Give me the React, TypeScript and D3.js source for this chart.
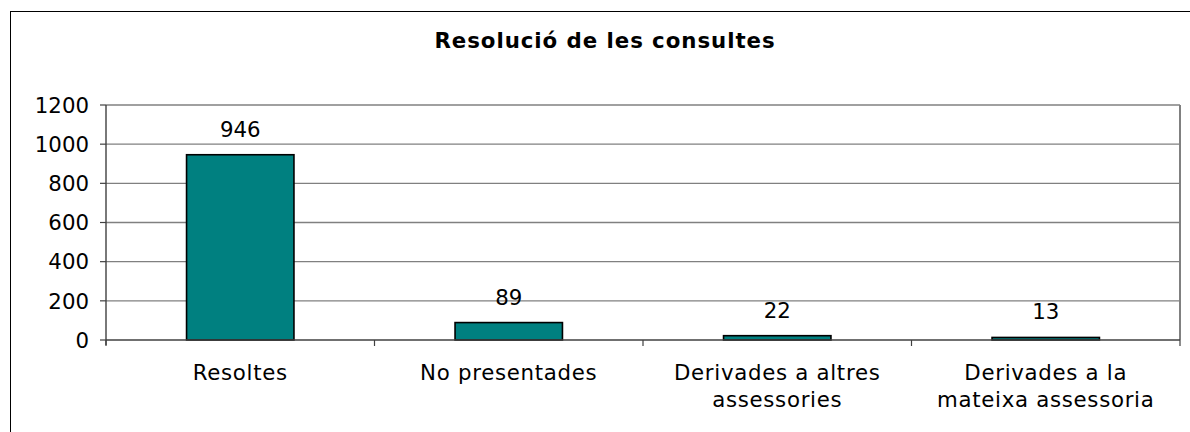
import React from "react";
import * as d3 from "d3";

const title = "Resolució de les consultes";
const categories = [
  "Resoltes",
  "No presentades",
  "Derivades a altres assessories",
  "Derivades a la mateixa assessoria",
];
const categoryLines = [
  ["Resoltes"],
  ["No presentades"],
  ["Derivades a altres", "assessories"],
  ["Derivades a la", "mateixa assessoria"],
];
const values = [946, 89, 22, 13];
const yTicks = [0, 200, 400, 600, 800, 1000, 1200];

const W = 1190;
const H = 432;
const plot = { left: 106, right: 1180, top: 105, bottom: 340 };
const FONT = "'DejaVu Sans', Verdana, sans-serif";

export default function App() {
  const x = d3
    .scaleBand<string>()
    .domain(categories)
    .range([plot.left, plot.right])
    .paddingInner(0.6)
    .paddingOuter(0.3);
  const y = d3.scaleLinear().domain([0, 1200]).range([plot.bottom, plot.top]);
  const step = x.step();
  const boundaries = d3.range(categories.length + 1).map((i) => plot.left + i * step);

  return (
    <svg
      width={W}
      height={H}
      style={{ position: "absolute", left: 0, top: 0, background: "#fff" }}
      fontFamily={FONT}
    >
      <rect x={10.5} y={11.5} width={1300} height={600} fill="#fff" stroke="#000" strokeWidth={1} />
      <text x={605} y={48} textAnchor="middle" fontWeight="bold" fontSize={21.3} letterSpacing={0.95} fill="#000">
        {title}
      </text>
      {yTicks.map((t) => (
        <g key={t}>
          {t > 0 && (
            <line x1={plot.left} x2={plot.right} y1={y(t)} y2={y(t)} stroke="#808080" strokeWidth={1.4} />
          )}
          <line x1={plot.left - 6} x2={plot.left} y1={y(t)} y2={y(t)} stroke="#404040" strokeWidth={1.2} />
          <text x={89} y={y(t)} dy="0.36em" textAnchor="end" fontSize={21.3} fill="#000">
            {t}
          </text>
        </g>
      ))}
      <line x1={plot.right} x2={plot.right} y1={plot.top} y2={plot.bottom} stroke="#808080" strokeWidth={2} />
      {categories.map((c, i) => (
        <g key={c}>
          <rect
            x={x(c)}
            y={y(values[i])}
            width={x.bandwidth()}
            height={plot.bottom - y(values[i])}
            fill="#008080"
            stroke="#000"
            strokeWidth={1.6}
          />
          <text
            x={(x(c) as number) + x.bandwidth() / 2}
            y={Math.min(y(values[i]) - 18, 325)}
            textAnchor="middle"
            fontSize={21.3}
            fill="#000"
          >
            {values[i]}
          </text>
          <text
            x={(x(c) as number) + x.bandwidth() / 2}
            textAnchor="middle"
            fontSize={21.3}
            letterSpacing={0.7}
            fill="#000"
          >
            {categoryLines[i].map((l, j) => (
              <tspan key={j} x={(x(c) as number) + x.bandwidth() / 2} y={380 + j * 26.5}>
                {l}
              </tspan>
            ))}
          </text>
        </g>
      ))}
      <line x1={plot.left} x2={plot.left} y1={plot.top} y2={plot.bottom + 5} stroke="#404040" strokeWidth={1.4} />
      <line x1={plot.left} x2={plot.right} y1={plot.bottom} y2={plot.bottom} stroke="#404040" strokeWidth={1.4} />
      {boundaries.map((b, i) => (
        <line key={i} x1={b} x2={b} y1={plot.bottom} y2={plot.bottom + 6} stroke="#404040" strokeWidth={1.2} />
      ))}
    </svg>
  );
}
